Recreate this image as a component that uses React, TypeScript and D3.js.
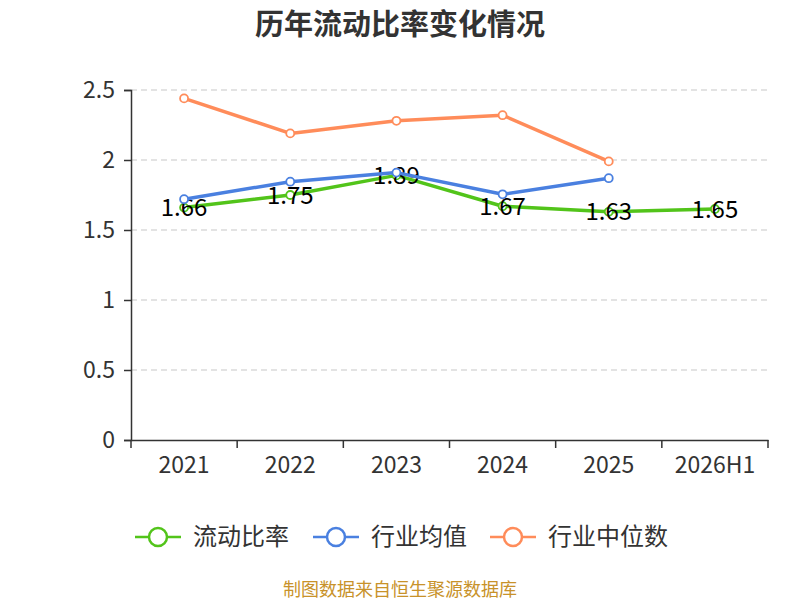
import React, { useEffect, useRef } from "react";
import * as d3 from "d3";

const categories = ["2021", "2022", "2023", "2024", "2025", "2026H1"];
const currentRatio = [1.66, 1.75, 1.89, 1.67, 1.63, 1.65];
const industryAvg = [1.72, 1.845, 1.91, 1.755, 1.87];
const industryMedian = [2.44, 2.19, 2.28, 2.32, 1.99];
const yTicks = [0, 0.5, 1, 1.5, 2, 2.5];

const seriesNames = ["流动比率", "行业均值", "行业中位数"];
const seriesColors = ["#52c41a", "#4a80e0", "#ff8c5a"];

const FONT = "'Noto Sans CJK SC', 'Noto Sans', sans-serif";

const App: React.FC = () => {
  const svgRef = useRef<SVGSVGElement>(null);

  useEffect(() => {
    if (!svgRef.current) return;
    const width = 800;
    const height = 600;
    const margin = { top: 90, right: 32, bottom: 160, left: 131 };

    const svg = d3.select(svgRef.current).attr("width", width).attr("height", height);
    svg.selectAll("*").remove();

    const x = d3
      .scaleBand<string>()
      .domain(categories)
      .range([margin.left, width - margin.right]);
    const y = d3
      .scaleLinear()
      .domain([0, 2.5])
      .range([height - margin.bottom, margin.top]);

    // title
    svg
      .append("text")
      .attr("x", width / 2)
      .attr("y", 35)
      .attr("text-anchor", "middle")
      .attr("font-family", FONT)
      .attr("font-size", 29)
      .attr("font-weight", "bold")
      .attr("fill", "#333")
      .text("历年流动比率变化情况");

    // grid
    svg
      .append("g")
      .selectAll("line")
      .data(yTicks.filter((t) => t > 0))
      .join("line")
      .attr("x1", margin.left)
      .attr("x2", width - margin.right)
      .attr("y1", (d) => y(d))
      .attr("y2", (d) => y(d))
      .attr("stroke", "#c8c8c8")
      .attr("stroke-dasharray", "6 4")
      .attr("stroke-width", 1.2);

    // y axis
    const yAxis = svg
      .append("g")
      .attr("transform", `translate(${margin.left},0)`)
      .call(d3.axisLeft(y).tickValues(yTicks).tickSize(7).tickPadding(9).tickFormat((d) => String(d)));
    yAxis.select(".domain").attr("stroke", "#333").attr("stroke-width", 1.5);
    yAxis.selectAll(".tick line").attr("stroke", "#333").attr("stroke-width", 1.5);
    yAxis
      .selectAll(".tick text")
      .attr("font-family", FONT)
      .attr("font-size", 23)
      .attr("fill", "#333");

    // x axis
    const xAxis = svg
      .append("g")
      .attr("transform", `translate(0,${y(0)})`)
      .call(d3.axisBottom(x).tickSize(0).tickPadding(17));
    xAxis.select(".domain").attr("stroke", "#333").attr("stroke-width", 1.5);
    xAxis
      .selectAll(".tick text")
      .attr("font-family", FONT)
      .attr("font-size", 23)
      .attr("fill", "#333");
    const bounds = [...categories.map((c) => x(c) as number), width - margin.right];
    svg
      .append("g")
      .selectAll("line")
      .data(bounds)
      .join("line")
      .attr("x1", (d) => d)
      .attr("x2", (d) => d)
      .attr("y1", y(0))
      .attr("y2", y(0) + 8)
      .attr("stroke", "#333")
      .attr("stroke-width", 1.5);

    const cx = (i: number) => (x(categories[i]) as number) + x.bandwidth() / 2;
    const line = d3
      .line<number>()
      .x((_, i) => cx(i))
      .y((d) => y(d));

    const allSeries = [currentRatio, industryAvg, industryMedian];
    allSeries.forEach((data, si) => {
      const g = svg.append("g");
      g.append("path")
        .datum(data)
        .attr("d", line)
        .attr("fill", "none")
        .attr("stroke", seriesColors[si])
        .attr("stroke-width", 3.5)
        .attr("stroke-linejoin", "round");
      g.selectAll("circle")
        .data(data)
        .join("circle")
        .attr("cx", (_, i) => cx(i))
        .attr("cy", (d) => y(d))
        .attr("r", 4)
        .attr("fill", "#fff")
        .attr("stroke", seriesColors[si])
        .attr("stroke-width", 1.8);
      if (si === 0) {
        g.selectAll("text")
          .data(data)
          .join("text")
          .attr("x", (_, i) => cx(i))
          .attr("y", (d) => y(d))
          .attr("dy", "0.36em")
          .attr("text-anchor", "middle")
          .attr("font-family", FONT)
          .attr("font-size", 24)
          .attr("fill", "#000")
          .text((d) => d.toFixed(2));
      }
    });

    // legend
    const legendX = [135, 313, 490];
    const legendY = 537;
    seriesNames.forEach((name, i) => {
      const g = svg.append("g").attr("transform", `translate(${legendX[i]},${legendY})`);
      g.append("line")
        .attr("x1", 0)
        .attr("x2", 46)
        .attr("stroke", seriesColors[i])
        .attr("stroke-width", 2.5);
      g.append("circle")
        .attr("cx", 23)
        .attr("r", 9)
        .attr("fill", "#fff")
        .attr("stroke", seriesColors[i])
        .attr("stroke-width", 2.5);
      g.append("text")
        .attr("x", 58)
        .attr("dy", "0.35em")
        .attr("font-family", FONT)
        .attr("font-size", 24)
        .attr("fill", "#333")
        .text(name);
    });

    // source
    svg
      .append("text")
      .attr("x", width / 2)
      .attr("y", 596)
      .attr("text-anchor", "middle")
      .attr("font-family", FONT)
      .attr("font-size", 18)
      .attr("fill", "#c8922a")
      .text("制图数据来自恒生聚源数据库");
  }, []);

  return (
    <div style={{ position: "absolute", left: 0, top: 0 }}>
      <svg ref={svgRef}></svg>
    </div>
  );
};

export default App;
